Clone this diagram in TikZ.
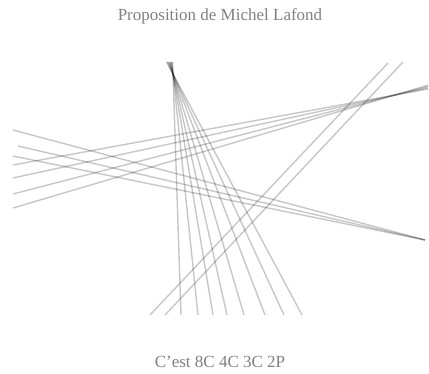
\documentclass[tikz,border=0pt]{standalone}
\usepackage{fontspec}
\setmainfont{Liberation Serif}
\usetikzlibrary{calc}
\begin{document}
\begin{tikzpicture}[x=1pt,y=-1pt,
    trait/.style={draw=black,draw opacity=0.22,line width=1.4pt},
    every node/.style={font=\fontsize{17}{20}\selectfont,text=black!50,anchor=base}]
  \useasboundingbox (0,0) rectangle (429,374);
  \node (titre) at (220,20.7) {Proposition de Michel Lafond};
  \node (legende) at (220,368) {C'est 8C 4C 3C 2P};
  % 8 droites concourantes
  \coordinate (A) at (173,74);
  \foreach \b in {181,198,213,227,244,265,284,302}
    \draw[trait] ($(A)!-0.05!(\b,315)$) -- (\b,315);
  % 4 droites concourantes
  \coordinate (B) at (395,95);
  \foreach \y in {165,178,194,208}
    \draw[trait] (13,\y) -- ($(13,\y)!1.0864!(B)$);
  % 3 droites concourantes
  \coordinate (C) at (425,240);
  \foreach \p in {(13,130),(18,146),(13,156)}
    \draw[trait] \p -- (C);
  % 2 droites paralleles
  \draw[trait] (150,315) -- (388,63);
  \draw[trait] (165,315) -- (403,62);
\end{tikzpicture}
\end{document}
